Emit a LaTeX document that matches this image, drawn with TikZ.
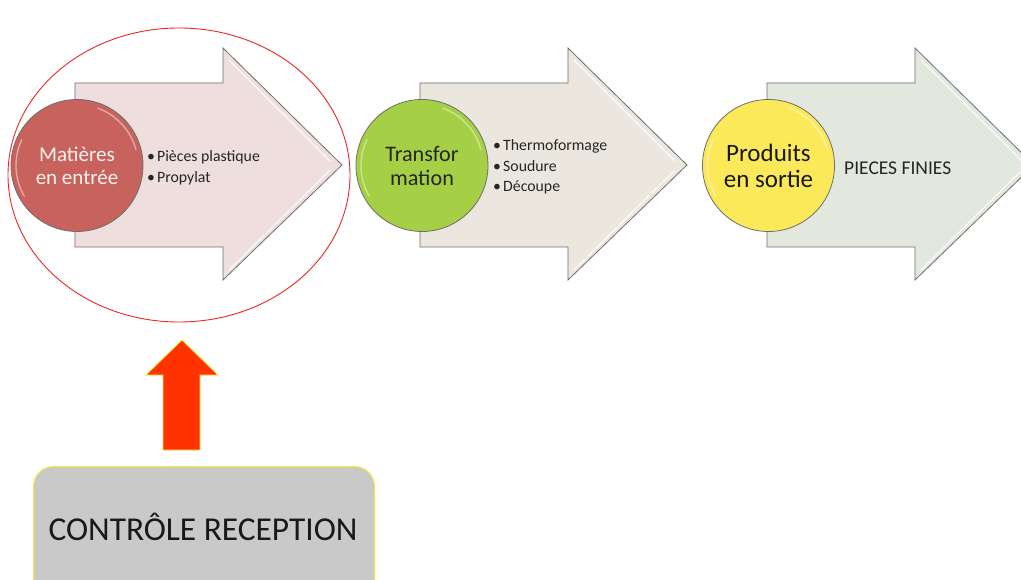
\documentclass[tikz,border=0pt]{standalone}
\usepackage{fontspec}
\setmainfont{Carlito}
\usetikzlibrary{shapes.geometric}
\definecolor{matred}{HTML}{C8625C}
\definecolor{trgreen}{HTML}{A5CF45}
\definecolor{prodyellow}{HTML}{FCE95A}
\definecolor{arrowpink}{HTML}{EEDEDE}
\definecolor{arrowbeige}{HTML}{EBE7DF}
\definecolor{arrowsage}{HTML}{E3E8DF}
\definecolor{edgegray}{HTML}{6E6E6E}
\definecolor{boxgray}{HTML}{C9C9C9}
\definecolor{boxedge}{HTML}{F2EA3C}
\definecolor{uparrow}{HTML}{FF3300}
\newcommand{\bul}[1]{\makebox[10pt][l]{•}#1}
\tikzset{
  x=1pt, y=-1pt,
  blockarrow/.style={draw=edgegray, line width=0.8pt, line join=miter},
  stage/.style={circle, draw=edgegray, line width=0.8pt, minimum size=132pt,
                inner sep=0pt, align=center},
  items/.style={anchor=west, align=left, inner sep=0pt,
                font=\fontsize{15.8}{20.5}\selectfont, text=black!85},
  gloss/.style={white, opacity=0.45, line width=1.4pt, line cap=round},
}
\begin{document}
\begin{tikzpicture}
\useasboundingbox (0,0) rectangle (1021,580);
\fill[white] (0,0) rectangle (1021,580);

% block arrows of the three stages
\foreach \xo/\col in {0/arrowpink, 345/arrowbeige, 692/arrowsage}{
  \draw[blockarrow, fill=\col]
    (75+\xo,83) -- (223+\xo,83) -- (223+\xo,48) -- (342+\xo,165)
    -- (223+\xo,280) -- (223+\xo,247) -- (75+\xo,247) -- cycle;
  \draw[white, opacity=0.8, line width=1.2pt]
    (229+\xo,60) -- (330+\xo,161);
  \draw[white, opacity=0.8, line width=1.2pt]
    (229+\xo,270) -- (330+\xo,170);
}

% stage discs
\node[stage, fill=matred, text=white!92!matred, font=\fontsize{21}{23}\selectfont]
  (c1) at (77,165.5) {Matières\\en entrée};
\node[stage, fill=trgreen, text=black!85, font=\fontsize{22.2}{24}\selectfont]
  (c2) at (422,165.5) {Transfor\\mation};
\node[stage, fill=prodyellow, text=black!90, font=\fontsize{25}{26}\selectfont]
  (c3) at (768.5,165.5) {Produits\\en sortie};
\foreach \c in {c1,c2,c3}{
  \draw[gloss] (\c.center) ++(150:61) arc[start angle=150, end angle=205, radius=61];
  \draw[gloss] (\c.center) ++(-70:61) arc[start angle=-70, end angle=-15, radius=61];
}

% contents of each stage
\node[items] (l1) at (147,168) {\bul{Pièces plastique}\\\bul{Propylat}};
\node[items] (l2) at (493,167) {\bul{Thermoformage}\\\bul{Soudure}\\\bul{Découpe}};
\node[items, font=\fontsize{19.5}{22}\selectfont] (l3) at (844,168) {PIECES FINIES};

% incoming inspection zone
\node[ellipse, draw={rgb,255:red,235;green,40;blue,35}, line width=0.9pt,
      minimum width=342pt, minimum height=294pt, inner sep=0pt] (zone) at (179,175) {};

\node[draw=boxedge, line width=1pt, fill=boxgray, rounded corners=20pt,
      minimum width=341pt, minimum height=140pt, inner sep=0pt,
      anchor=north west] (ctrl) at (33,466) {};
\node[font=\fontsize{33.4}{36}\selectfont, text=black!90] (ctrltxt) at (203,527) {CONTRÔLE RECEPTION};

% upward block arrow from the control box towards the zone
\draw[fill=uparrow, draw=boxedge, line width=0.8pt, line join=miter]
  (163,450) -- (163,375) -- (146,375) -- (182,340) -- (218,375)
  -- (200,375) -- (200,450) -- cycle;
\end{tikzpicture}
\end{document}
